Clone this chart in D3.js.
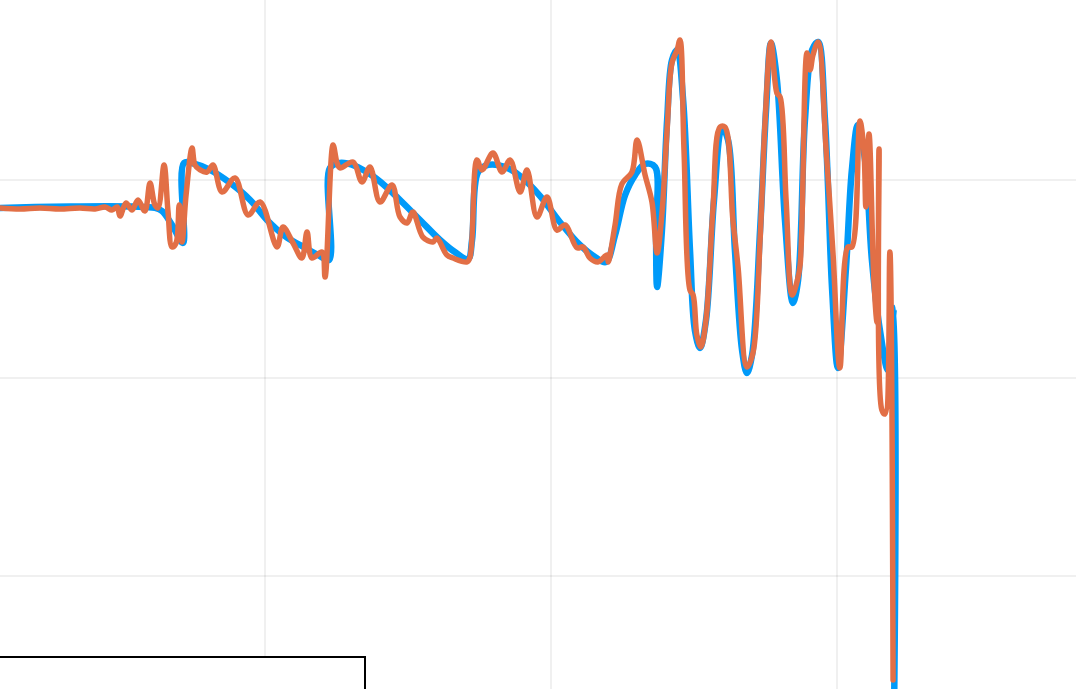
<!DOCTYPE html>
<html>
<head>
<meta charset="utf-8">
<script src="https://cdn.jsdelivr.net/npm/d3@7"></script>
<style>
  body { margin: 0; background: #fff; overflow: hidden; }
</style>
</head>
<body>
<div id="graph"></div>
<script>
// reference signal (blue) : [t, value]
var refT = [0.73, 6.15, 6.40, 6.75, 7.13, 7.17, 7.55, 8.08, 8.78, 9.48, 10.07, 10.70, 11.40, 11.92, 12.24,
    12.27, 12.62, 13.15, 13.67, 14.20, 14.72, 15.42, 16.12, 16.64, 17.10, 17.24, 17.45, 17.80, 18.39, 18.92,
    19.62, 20.31, 21.01, 21.54, 21.92, 22.24, 22.59, 22.94, 23.29, 23.64, 23.67, 23.71, 23.88, 24.06, 24.23,
    24.41, 24.62, 24.86, 25.03, 25.21, 25.42, 25.70, 25.98, 26.19, 26.43, 26.68, 26.85, 27.03, 27.31, 27.52,
    27.69, 27.90, 28.18, 28.46, 28.64, 28.88, 29.13, 29.34, 29.58, 29.83, 30.03, 30.31, 30.52, 30.73, 30.98,
    31.22, 31.50, 31.78, 32.00, 32.00];
var refV = [0.859, 0.859, 0.843, 0.773, 0.682, 1.086, 1.081, 1.051, 0.985, 0.899, 0.798, 0.717, 0.657, 0.616, 0.596,
    1.061, 1.086, 1.071, 1.030, 0.970, 0.899, 0.798, 0.697, 0.636, 0.601, 0.697, 1.040, 1.076, 1.066, 1.020,
    0.919, 0.788, 0.672, 0.611, 0.586, 0.722, 0.924, 1.025, 1.081, 1.066, 0.747, 0.460, 0.747, 1.303, 1.606,
    1.657, 1.404, 0.646, 0.242, 0.152, 0.293, 0.899, 1.263, 1.202, 0.646, 0.141, 0.025, 0.116, 0.747, 1.354,
    1.692, 1.505, 0.798, 0.379, 0.495, 1.303, 1.657, 1.697, 1.303, 0.444, 0.051, 0.545, 1.051, 1.278, 1.101,
    0.596, 0.242, 0.040, 0.354, -1.626];

// measured signal (orange)
var measT = [0.73, 1.43, 2.13, 2.83, 3.53, 4.06, 4.41, 4.65, 4.83, 4.93, 5.14, 5.35, 5.56, 5.80, 5.98, 6.15, 6.26,
    6.47, 6.61, 6.75, 6.89, 7.00, 7.10, 7.24, 7.45, 7.55, 7.73, 7.97, 8.18, 8.50, 8.95, 9.41, 9.83, 10.42,
    10.63, 10.98, 11.29, 11.47, 11.64, 11.99, 12.10, 12.38, 12.52, 12.62, 13.08, 13.39, 13.67, 14.02, 14.44,
    14.72, 14.97, 15.17, 15.52, 15.87, 16.01, 16.36, 16.57, 17.06, 17.17, 17.41, 17.59, 17.97, 18.29, 18.57,
    18.92, 19.16, 19.51, 19.86, 20.21, 20.49, 20.91, 21.12, 21.36, 21.64, 21.96, 22.00, 22.24, 22.48, 22.83,
    23.01, 23.29, 23.53, 23.71, 23.88, 24.06, 24.23, 24.41, 24.51, 24.65, 24.86, 24.97, 25.10, 25.24, 25.42,
    25.66, 25.91, 26.08, 26.36, 26.54, 26.85, 27.06, 27.31, 27.48, 27.69, 27.90, 28.01, 28.22, 28.43, 28.60,
    28.71, 28.95, 29.06, 29.16, 29.34, 29.62, 29.86, 30.10, 30.38, 30.52, 30.80, 30.94, 31.01, 31.12, 31.29,
    31.40, 31.47, 31.57, 31.68, 31.85, 31.96];
var measV = [0.859, 0.854, 0.859, 0.854, 0.859, 0.854, 0.864, 0.848, 0.864, 0.818, 0.884, 0.848, 0.899, 0.843, 0.985, 0.874, 0.859,
    1.076, 0.838, 0.662, 0.682, 0.874, 0.687, 0.924, 1.162, 1.076, 1.051, 1.040, 1.076, 0.939, 1.010, 0.823, 0.889, 0.662,
    0.763, 0.682, 0.606, 0.737, 0.606, 0.636, 0.510, 1.177, 1.086, 1.061, 1.091, 0.990, 1.066, 0.889, 0.975,
    0.813, 0.783, 0.838, 0.712, 0.687, 0.707, 0.621, 0.606, 0.586, 0.611, 1.101, 1.051, 1.136, 1.040, 1.101,
    0.939, 1.051, 0.813, 0.914, 0.747, 0.773, 0.657, 0.662, 0.606, 0.586, 0.621, 0.586, 0.773, 0.980, 1.040,
    1.202, 1.025, 0.889, 0.631, 0.833, 1.253, 1.591, 1.657, 1.707, 1.152, 0.444, 0.419, 0.217, 0.157, 0.293,
    0.848, 1.268, 1.268, 0.798, 0.561, 0.056, 0.126, 0.697, 1.278, 1.697, 1.439, 1.419, 0.899, 0.419, 0.485,
    0.571, 1.641, 1.556, 1.631, 1.697, 1.152, 0.631, 0.051, 0.662, 0.662, 1.298, 1.152, 0.864, 1.232, 0.495,
    0.283, 1.157, -0.162, -0.182, 0.636, -1.525];

var xTicks = [10, 20, 30];
var yTicks = [-1, 0, 1];

var width = 1076, height = 689;

var svg = d3.select('#graph')
    .append('svg')
    .attr('width', width)
    .attr('height', height);

var x = d3.scaleLinear().domain([0, 40]).range([-21, 1123]);
var y = d3.scaleLinear().domain([-2, 2]).range([774, -18]);

// grid
svg.append('g')
    .selectAll('line')
    .data(xTicks)
    .enter().append('line')
    .attr('x1', function(d){ return x(d); })
    .attr('x2', function(d){ return x(d); })
    .attr('y1', 0)
    .attr('y2', height)
    .style('stroke', '#000')
    .style('stroke-opacity', 0.12)
    .style('stroke-width', 1);

svg.append('g')
    .selectAll('line')
    .data(yTicks)
    .enter().append('line')
    .attr('x1', 0)
    .attr('x2', width)
    .attr('y1', function(d){ return y(d); })
    .attr('y2', function(d){ return y(d); })
    .style('stroke', '#000')
    .style('stroke-opacity', 0.12)
    .style('stroke-width', 1);

var line = d3.line()
    .curve(d3.curveCatmullRom.alpha(0.5))
    .x(function(d){ return x(d[0]); })
    .y(function(d){ return y(d[1]); });

var refData = d3.zip(refT, refV);
var measData = d3.zip(measT, measV);

svg.append('path')
    .datum(refData)
    .attr('d', line)
    .style('fill', 'none')
    .style('stroke', '#009af9')
    .style('stroke-width', 6.5)
    .style('stroke-linejoin', 'round');

svg.append('path')
    .datum(measData)
    .attr('d', line)
    .style('fill', 'none')
    .style('stroke', '#e26f46')
    .style('stroke-width', 5.5)
    .style('stroke-linejoin', 'round')
    .style('stroke-linecap', 'round');

// legend box (mostly below the visible area)
svg.append('rect')
    .attr('x', -10)
    .attr('y', 657)
    .attr('width', 375)
    .attr('height', 60)
    .style('fill', '#fff')
    .style('stroke', '#000')
    .style('stroke-width', 2);
</script>
</body>
</html>
